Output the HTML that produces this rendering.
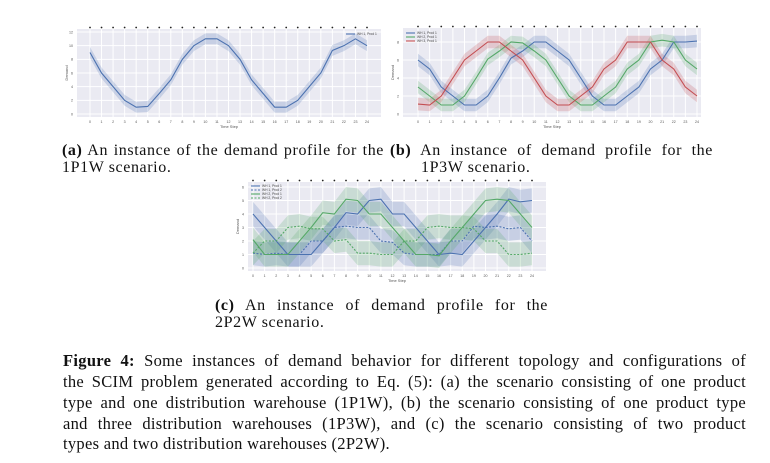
<!DOCTYPE html><html><head><style>
body{margin:0;width:770px;height:463px;background:#fff;position:relative;overflow:hidden;font-family:"Liberation Serif",serif;color:#111}
.l{position:absolute;white-space:nowrap;font-size:16.5px;line-height:17px;letter-spacing:0.3px}
.s{font-size:16px;letter-spacing:0.6px}
.j{text-align:justify;text-align-last:justify;white-space:normal}
svg{position:absolute;left:0;top:0}
</style></head><body>
<svg id="s" width="770" height="463" font-family="Liberation Sans, sans-serif"></svg>
<div class="l j s" style="left:62px;top:142px;width:322px"><b>(a)</b> An instance of the demand profile for the</div>
<div class="l s" style="left:62px;top:159px">1P1W scenario.</div>
<div class="l j s" style="left:390px;top:142px;width:323px"><b>(b)</b> An instance of demand profile for the</div>
<div class="l s" style="left:421px;top:159px">1P3W scenario.</div>
<div class="l j s" style="left:215px;top:297px;width:333px"><b>(c)</b> An instance of demand profile for the</div>
<div class="l s" style="left:215px;top:314px">2P2W scenario.</div>
<div class="l j" style="left:63px;top:352px;width:683px"><b>Figure 4:</b> Some instances of demand behavior for different topology and configurations of</div>
<div class="l j" style="left:63px;top:373px;width:683px">the SCIM problem generated according to Eq. (5): (a) the scenario consisting of one product</div>
<div class="l j" style="left:63px;top:394px;width:683px">type and one distribution warehouse (1P1W), (b) the scenario consisting of one product type</div>
<div class="l j" style="left:63px;top:415px;width:683px">and three distribution warehouses (1P3W), and (c) the scenario consisting of two product</div>
<div class="l" style="left:63px;top:435px">types and two distribution warehouses (2P2W).</div>
<script>
var S=document.getElementById('s'),h='';
function chart(o){
 var X=function(i){return o.x0+(o.x24-o.x0)*i/24},Y=function(v){return o.y0+(o.yt-o.y0)*v/o.vt};
 h+='<rect x="'+o.L+'" y="'+o.T+'" width="'+(o.R-o.L)+'" height="'+(o.B-o.T)+'" fill="#eaeaf2"/>';
 for(var i=0;i<=24;i++){h+='<line x1="'+X(i)+'" x2="'+X(i)+'" y1="'+o.T+'" y2="'+o.B+'" stroke="#fff" stroke-width="1"/>';
  h+='<circle cx="'+X(i)+'" cy="'+(o.T-1.5)+'" r="0.9" fill="#222"/>';
  h+='<text x="'+X(i)+'" y="'+(o.B+6)+'" font-size="3.6" fill="#555" text-anchor="middle">'+i+'</text>';}
 for(var v=0;v<=o.vmax;v+=o.vs){h+='<line x1="'+o.L+'" x2="'+o.R+'" y1="'+Y(v)+'" y2="'+Y(v)+'" stroke="#fff" stroke-width="1"/>';
  h+='<text x="'+(o.L-4)+'" y="'+(Y(v)+1.3)+'" font-size="3.6" fill="#555" text-anchor="end">'+v+'</text>';}
 h+='<text x="'+((o.L+o.R)/2)+'" y="'+(o.B+11)+'" font-size="4" fill="#555" text-anchor="middle">Time Step</text>';
 h+='<text transform="translate('+(o.L-9)+','+((o.T+o.B)/2)+') rotate(-90)" font-size="4" fill="#555" text-anchor="middle">Demand</text>';
 o.s.forEach(function(s){var up='',dn='';
  s.d.forEach(function(v,i){up+=(i?'L':'M')+X(i)+' '+Y(v+o.bw)});
  for(var i=24;i>=0;i--)dn+='L'+X(i)+' '+Y(s.d[i]-o.bw);
  h+='<path d="'+up+dn+'Z" fill="'+s.c+'" fill-opacity="0.22"/>';});
 o.s.forEach(function(s){var p='';s.d.forEach(function(v,i){p+=(i?'L':'M')+X(i)+' '+Y(v)});
  h+='<path d="'+p+'" fill="none" stroke="'+s.c+'" stroke-width="1.1"'+(s.dash?' stroke-dasharray="2,1.5"':'')+'/>';});
 o.s.forEach(function(s,k){var lx=o.lx,ly=o.ly+k*4;
  h+='<line x1="'+lx+'" x2="'+(lx+9)+'" y1="'+ly+'" y2="'+ly+'" stroke="'+s.c+'" stroke-width="1.1"'+(s.dash?' stroke-dasharray="2,1.5"':'')+'/>';
  h+='<text x="'+(lx+11)+'" y="'+(ly+1.2)+'" font-size="3.3" fill="#444">'+s.n+'</text>';});
}
var B='#4c72b0',G='#55a868',R='#c44e52';
chart({L:77,R:381,T:29,B:117,x0:90,x24:367,y0:114,yt:32,vt:12,vmax:12,vs:2,bw:0.8,lx:346,ly:34,
 s:[{c:B,n:'WH 1, Prod 1',d:[9,6,4,2,1,1.1,3,5,8,10,11,11,10,8,5,3,1,1,2,4,6,9.3,10,11,10]}]});
chart({L:403,R:701,T:28,B:117,x0:418,x24:697,y0:114,yt:42,vt:8,vmax:8,vs:2,bw:0.7,lx:406,ly:33,
 s:[{c:B,n:'WH 1, Prod 1',d:[6,5,3,2,1,1,2,4,6.2,7,8,8,7,6,4,2,1,1,2,3,5,6,8,8,8.1]},
 {c:G,n:'WH 2, Prod 1',d:[3,2,1,1,2,4,6.1,7,8,7.9,7,6,4,2,1,1,2,3,5,6,8,8.2,8,6,5]},
 {c:R,n:'WH 3, Prod 1',d:[1.1,1,2,4,6,7,8,8,7,6,4,2,1,1,2,3,5,6,8,8,8,6,5,3,2]}]});
chart({L:248,R:546,T:182,B:271,x0:253,x24:532,y0:268,yt:187,vt:6,vmax:6,vs:1,bw:0.9,lx:251,ly:186,
 s:[{c:B,n:'WH 1, Prod 1',d:[4,3,2,1,1,1,2,3,4.1,4,5,5.1,4,4,3,2,1,1.1,1,2,3,4,5.1,4.9,5]},
 {c:B,dash:1,n:'WH 1, Prod 2',d:[1.1,1,1.1,1,1,2,2,3,3.1,3,3,2,1.9,1.1,1,1,1,2,2,3.1,3,3.1,2.9,3,2]},
 {c:G,n:'WH 2, Prod 1',d:[2.1,1,1,1,2,3,4.1,4,5.1,5,4,4,3,2,1,1,0.9,2,3,4,5,5.1,5,4,3]},
 {c:G,dash:1,n:'WH 2, Prod 2',d:[1.1,2,2,3,3.1,2.9,2.9,2,2.1,1.1,1.1,1,1,2,2,3,3.1,3,3,2.9,2,2,1,1,1.1]}]});
S.innerHTML=h;
</script>
</body></html>
